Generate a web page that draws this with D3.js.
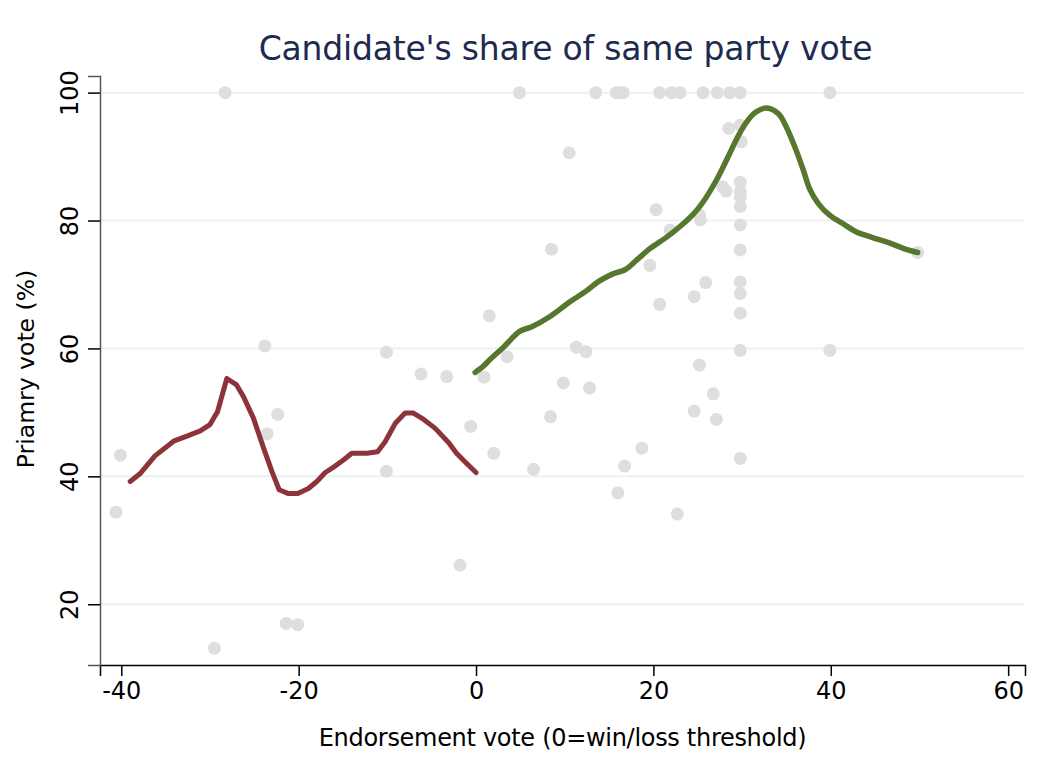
<!DOCTYPE html>
<html>
<head>
<meta charset="utf-8">
<script src="https://cdn.jsdelivr.net/npm/d3@7"></script>
<style>
  html, body { margin: 0; padding: 0; background: #ffffff; }
  svg { display: block; font-family: "DejaVu Sans", sans-serif; }
</style>
</head>
<body>
<svg id="chart" width="1044" height="767"></svg>
<script>
// Scatter of individual races: endorsement margin vs. primary vote share
const pointX = [-28.3, -23.8, -10.1, -22.35, -23.55, -40.1, -40.6, -10.1, -6.2, -3.3, -0.6, -1.8, -21.4, -20.1, -29.5,
  0.9, 1.5, 2.0, 3.5, 4.9, 6.5, 8.4, 8.5, 9.85, 10.5, 11.3, 12.4, 12.8, 13.5, 15.8, 16.2, 16.6, 16.0, 16.75, 18.7,
  19.6, 20.3, 20.7, 20.7, 21.9, 22.05, 22.7, 23.0, 24.6, 24.6, 25.2, 25.3, 25.2, 25.6, 25.9, 26.75, 27.1, 27.2,
  27.8, 28.2, 28.5, 28.6, 29.8, 29.8, 29.9, 29.8, 29.8, 29.8, 29.8, 29.8, 29.8, 29.8, 29.8, 29.8, 29.8, 29.8,
  39.9, 39.9, 49.8];
const pointY = [100, 60.4, 59.4, 49.7, 46.65, 43.3, 34.4, 40.8, 56.0, 55.6, 47.8, 26.1, 17.0, 16.8, 13.1,
  55.5, 65.1, 43.6, 58.7, 100, 41.1, 49.3, 75.5, 54.6, 90.6, 60.2, 59.5, 53.8, 100, 100, 100, 100, 37.4, 41.6, 44.4,
  73.0, 81.7, 100, 66.9, 78.5, 100, 34.1, 100, 68.1, 50.2, 80.9, 80.1, 57.4, 100, 70.3, 52.9, 48.9, 100,
  85.3, 84.6, 94.4, 100, 100, 94.9, 92.3, 86.0, 84.5, 83.7, 82.2, 79.3, 75.4, 70.4, 68.6, 65.5, 59.7, 42.8,
  100, 59.7, 75.0];

// Local smoother below the threshold (losers)
const lossX = [-39.0, -37.9, -36.2, -34.1, -32.6, -31.1, -30.0, -29.15, -28.1, -27.0, -26.2, -25.1, -24.0, -23.0,
  -22.2, -21.15, -20.1, -18.9, -17.95, -17.0, -16.1, -14.95, -14.0, -12.3, -11.1, -10.25, -9.1, -8.0, -7.06,
  -5.9, -4.6, -3.1, -2.2, -1.05, 0.0];
const lossY = [39.2, 40.4, 43.2, 45.5, 46.3, 47.1, 48.1, 50.1, 55.3, 54.3, 52.4, 49.1, 44.6, 40.7,
  37.9, 37.3, 37.3, 38.1, 39.2, 40.6, 41.4, 42.55, 43.6, 43.6, 43.85, 45.4, 48.3, 49.9, 49.9,
  48.9, 47.5, 45.3, 43.6, 42.0, 40.6];

// Local smoother above the threshold (winners)
const winX = [-0.1, 0.8, 1.6, 3.1, 4.96, 6.3, 8.3, 10.6, 12.3, 13.97, 15.5, 16.8, 18.1, 19.6, 21.5, 23.2, 24.5,
  25.6, 27.1, 28.4, 29.4, 30.5, 31.6, 32.75, 34.1, 35.0, 35.95, 36.9, 37.6, 38.6, 39.9, 41.4, 42.9, 44.8,
  46.6, 48.1, 49.8];
const winY = [56.25, 57.2, 58.3, 60.2, 62.7, 63.4, 64.95, 67.3, 68.85, 70.6, 71.7, 72.3, 73.8, 75.6, 77.4, 79.3, 81.0,
  82.9, 86.3, 89.9, 92.8, 95.4, 97.0, 97.6, 96.7, 94.6, 91.5, 87.9, 85.0, 82.65, 80.8, 79.5, 78.2, 77.3,
  76.5, 75.7, 75.0];

const xTicks = [-40, -20, 0, 20, 40, 60];
const yTicks = [20, 40, 60, 80, 100];

const titleText = "Candidate's share of same party vote";
const xLabel = "Endorsement vote (0=win/loss threshold)";
const yLabel = "Priamry vote (%)";

const svg = d3.select("#chart");
const plotLeft = 100, plotRight = 1025, plotTop = 76, plotBottom = 665;

const x = d3.scaleLinear().domain([-42.4, 61.9]).range([plotLeft, plotRight]);
const y = d3.scaleLinear().domain([10.5, 102.6]).range([plotBottom, plotTop]);

// horizontal grid
svg.append("g")
  .selectAll("line")
  .data(yTicks)
  .join("line")
  .attr("x1", plotLeft).attr("x2", plotRight)
  .attr("y1", d => y(d)).attr("y2", d => y(d))
  .attr("stroke", "#eaf1f3")
  .attr("stroke-width", 2);

// scatter
svg.append("g")
  .selectAll("circle")
  .data(pointX.map((v, i) => [v, pointY[i]]))
  .join("circle")
  .attr("cx", d => x(d[0]))
  .attr("cy", d => y(d[1]))
  .attr("r", 6.5)
  .attr("fill", "#dedede");

// smoothed lines
const lineLoss = d3.line().x(d => x(d[0])).y(d => y(d[1])).curve(d3.curveLinear);
const lineWin = d3.line().x(d => x(d[0])).y(d => y(d[1])).curve(d3.curveCatmullRom.alpha(0.5));
svg.append("path")
  .datum(lossX.map((v, i) => [v, lossY[i]]))
  .attr("d", lineLoss)
  .attr("fill", "none")
  .attr("stroke", "#8c333b")
  .attr("stroke-width", 5)
  .attr("stroke-linejoin", "round")
  .attr("stroke-linecap", "round");
svg.append("path")
  .datum(winX.map((v, i) => [v, winY[i]]))
  .attr("d", lineWin)
  .attr("fill", "none")
  .attr("stroke", "#57772f")
  .attr("stroke-width", 5.5)
  .attr("stroke-linejoin", "round")
  .attr("stroke-linecap", "round");

// axes
const xAxis = svg.append("g")
  .attr("transform", `translate(0,${plotBottom})`)
  .call(d3.axisBottom(x).tickValues(xTicks).tickFormat(d3.format("d")).tickSizeOuter(0).tickSize(11).tickPadding(6));
xAxis.select(".domain").attr("stroke", "#000").attr("stroke-width", 1.5);
xAxis.selectAll(".tick line").attr("stroke", "#000").attr("stroke-width", 1.5);
xAxis.selectAll(".tick text")
  .attr("font-size", 24).attr("fill", "#000")
  .style("font-family", "DejaVu Sans")
  .text(d => d < 0 ? "-" + Math.abs(d) : d);

const yAxis = svg.append("g")
  .attr("transform", `translate(${plotLeft},0)`)
  .call(d3.axisLeft(y).tickValues(yTicks).tickSizeOuter(0).tickSize(12).tickPadding(0));
yAxis.select(".domain").attr("stroke", "#555").attr("stroke-width", 1.5);
yAxis.selectAll(".tick line").attr("stroke", "#000").attr("stroke-width", 1.5);
yAxis.selectAll(".tick text")
  .attr("font-size", 24).attr("fill", "#000")
  .style("font-family", "DejaVu Sans")
  .attr("x", null).attr("dy", null)
  .attr("text-anchor", "middle")
  .attr("transform", "translate(-22,0) rotate(-90)")
  .attr("y", 0);

// titles
svg.append("text")
  .attr("x", (plotLeft + plotRight) / 2 + 3)
  .attr("y", 60)
  .attr("text-anchor", "middle")
  .attr("font-size", 33)
  .attr("letter-spacing", -0.2)
  .attr("fill", "#1e2a4f")
  .text(titleText);

svg.append("text")
  .attr("x", (plotLeft + plotRight) / 2)
  .attr("y", 746)
  .attr("text-anchor", "middle")
  .attr("font-size", 24)
  .attr("letter-spacing", -0.3)
  .attr("fill", "#000")
  .text(xLabel);

svg.append("text")
  .attr("transform", `translate(34,369) rotate(-90)`)
  .attr("text-anchor", "middle")
  .attr("font-size", 23.5)
  .attr("fill", "#000")
  .text(yLabel);
</script>
</body>
</html>
